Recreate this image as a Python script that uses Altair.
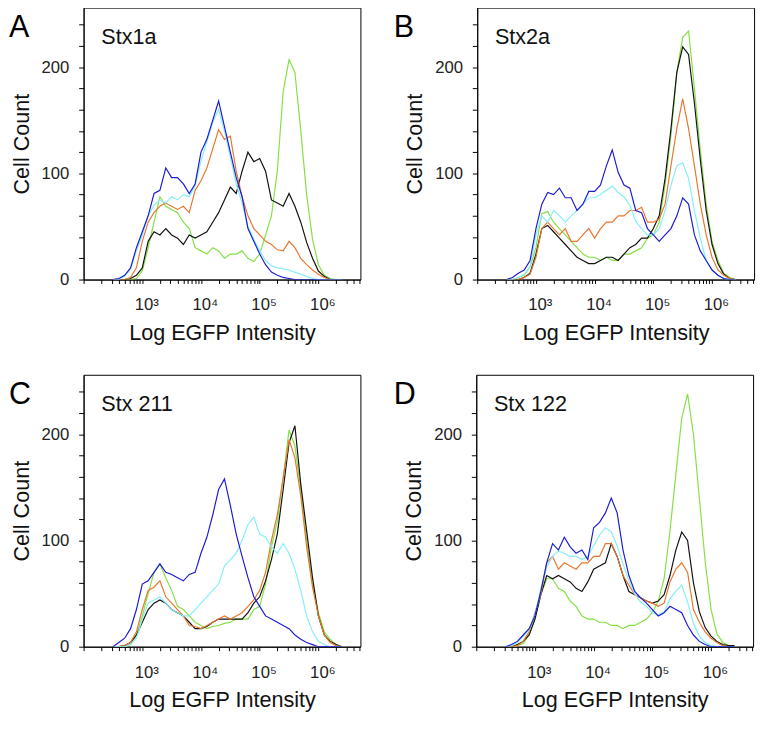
import altair as alt
import pandas as pd

LOG_BINS = [2.5, 2.6, 2.7, 2.8, 2.9, 3.0, 3.1, 3.2, 3.3, 3.4,
            3.5, 3.6, 3.7, 3.8, 3.9, 4.0, 4.1, 4.2, 4.3, 4.4,
            4.5, 4.6, 4.7, 4.8, 4.9, 5.0, 5.1, 5.2, 5.3, 5.4,
            5.5, 5.6, 5.7, 5.8, 5.9, 6.0, 6.1, 6.2, 6.3, 6.4]

SERIES = ["green", "black", "orange", "cyan", "blue"]
COLORS = ["#84e043", "#111111", "#e8772e", "#86eef8", "#1c1cd6"]

A_green = [0, 0, 0, 0, 1, 8, 30, 54, 78, 69, 66, 63, 54, 48, 30, 27, 24, 30, 27, 20,
           24, 24, 27, 20, 17, 24, 42, 60, 102, 177, 207, 195, 140, 80, 38, 14, 4, 1, 0, 0]
A_black = [0, 0, 0, 1, 4, 11, 36, 45, 42, 48, 42, 39, 33, 42, 39, 42, 45, 54, 63, 75,
           87, 81, 102, 120, 111, 114, 102, 75, 72, 69, 81, 69, 54, 35, 20, 8, 3, 0, 0, 0]
A_orange = [0, 0, 0, 2, 11, 36, 54, 63, 69, 72, 69, 66, 69, 63, 84, 93, 105, 123, 141, 132,
            135, 102, 78, 60, 48, 42, 36, 33, 28, 27, 36, 30, 20, 14, 9, 5, 2, 0, 0, 0]
A_cyan = [0, 0, 3, 10, 27, 42, 60, 70, 75, 72, 78, 75, 80, 78, 88, 112, 130, 148, 160, 140,
          115, 90, 72, 50, 38, 27, 18, 13, 11, 10, 9, 7, 5, 3, 1, 0, 0, 0, 0, 0]
A_blue = [0, 1, 4, 11, 30, 45, 60, 81, 84, 105, 96, 96, 90, 81, 90, 120, 132, 150, 168, 144,
          120, 96, 78, 48, 36, 24, 14, 7, 4, 2, 1, 0, 0, 0, 0, 0, 0, 0, 0, 0]

B_green = [0, 0, 2, 4, 12, 30, 62, 64, 54, 48, 42, 36, 30, 24, 21, 21, 18, 21, 18, 18,
           24, 24, 27, 30, 39, 42, 54, 89, 136, 195, 228, 234, 180, 122, 71, 36, 18, 6, 2, 0]
B_black = [0, 0, 0, 2, 6, 24, 48, 51, 45, 39, 33, 27, 21, 18, 15, 15, 18, 21, 21, 18,
           24, 30, 33, 39, 39, 48, 60, 95, 142, 195, 219, 212, 166, 113, 65, 33, 15, 5, 1, 0]
B_orange = [0, 0, 0, 2, 5, 21, 48, 54, 48, 42, 48, 36, 36, 42, 48, 39, 48, 54, 54, 60,
            60, 65, 65, 68, 54, 54, 57, 71, 107, 142, 170, 142, 107, 71, 42, 21, 9, 4, 1, 0]
B_cyan = [0, 0, 2, 5, 12, 42, 60, 54, 65, 60, 54, 60, 65, 71, 77, 77, 80, 84, 88, 82,
          78, 70, 55, 48, 42, 42, 48, 65, 89, 107, 110, 95, 65, 39, 18, 9, 4, 1, 0, 0]
B_blue = [0, 2, 6, 9, 18, 48, 71, 82, 80, 86, 77, 77, 65, 71, 83, 83, 89, 107, 122, 101,
          89, 86, 65, 63, 48, 42, 36, 42, 48, 60, 77, 71, 42, 27, 18, 9, 4, 1, 0, 0]

C_green = [0, 0, 0, 2, 11, 29, 50, 70, 78, 65, 53, 38, 35, 29, 23, 20, 17, 19, 20, 22,
           23, 26, 26, 26, 35, 38, 59, 94, 118, 159, 204, 189, 148, 100, 59, 32, 14, 7, 2, 0]
C_black = [0, 0, 1, 4, 11, 23, 35, 41, 44, 41, 35, 32, 29, 23, 17, 17, 19, 23, 26, 26,
           26, 26, 26, 32, 41, 47, 62, 82, 106, 148, 192, 208, 153, 109, 65, 29, 11, 5, 2, 0]
C_orange = [0, 0, 1, 4, 14, 35, 53, 56, 62, 47, 41, 35, 29, 20, 19, 17, 20, 23, 26, 29,
            26, 29, 32, 38, 44, 53, 70, 100, 124, 159, 195, 178, 142, 94, 56, 29, 11, 4, 1, 0]
C_cyan = [0, 0, 0, 2, 8, 26, 41, 44, 47, 41, 35, 32, 29, 29, 35, 41, 47, 53, 59, 76,
          82, 88, 100, 115, 122, 106, 103, 94, 88, 97, 88, 73, 53, 29, 14, 5, 2, 0, 0, 0]
C_blue = [0, 4, 8, 17, 35, 59, 62, 70, 78, 70, 68, 65, 62, 68, 70, 88, 103, 124, 148, 158,
          133, 106, 85, 65, 47, 38, 29, 26, 23, 20, 17, 11, 7, 4, 2, 0, 0, 0, 0, 0]

D_green = [0, 0, 1, 3, 11, 26, 49, 64, 64, 55, 52, 43, 38, 29, 26, 26, 23, 23, 20, 20,
           17, 20, 20, 23, 26, 32, 43, 64, 109, 162, 215, 238, 200, 140, 80, 35, 12, 4, 1, 0]
D_black = [0, 0, 2, 5, 11, 26, 49, 67, 64, 67, 64, 61, 55, 52, 61, 73, 76, 79, 97, 85,
           67, 52, 49, 46, 43, 41, 43, 49, 67, 91, 108, 100, 60, 33, 18, 10, 5, 2, 1, 1]
D_orange = [0, 0, 1, 5, 14, 32, 49, 79, 85, 73, 79, 76, 73, 79, 79, 85, 85, 97, 97, 85,
            67, 58, 49, 46, 43, 41, 38, 41, 61, 73, 79, 70, 35, 23, 14, 8, 4, 1, 0, 0]
D_cyan = [0, 1, 4, 10, 16, 30, 55, 75, 85, 90, 88, 85, 85, 82, 85, 95, 105, 112, 108, 95,
          78, 62, 50, 42, 38, 32, 30, 33, 45, 52, 58, 42, 22, 10, 4, 1, 0, 0, 0, 0]
D_blue = [0, 2, 5, 11, 17, 29, 52, 79, 97, 91, 103, 94, 88, 91, 82, 112, 117, 126, 140, 126,
          91, 67, 52, 46, 41, 35, 29, 32, 38, 35, 32, 20, 11, 5, 2, 0, 0, 0, 0, 0]

PANELS = [
    ("A", "Stx1a", [A_green, A_black, A_orange, A_cyan, A_blue], -76, 30),
    ("B", "Stx2a", [B_green, B_black, B_orange, B_cyan, B_blue], -85, 30),
    ("C", "Stx 211", [C_green, C_black, C_orange, C_cyan, C_blue], -76, 30),
    ("D", "Stx 122", [D_green, D_black, D_orange, D_cyan, D_blue], -84, 30),
]

X_TICKS = [m * 10 ** d for d in range(2, 7) for m in range(1, 10) if m * 10 ** d <= 5200000]
Y_TICKS = list(range(0, 241, 20))
FONT = "Liberation Sans"

W, H = 282, 277


def panel(letter, label, series_vals, letter_dx, letter_y):
    layers = []
    for name, color, vals in zip(SERIES, COLORS, series_vals):
        df = pd.DataFrame({"lb": LOG_BINS, "count": vals})
        df["x"] = 10 ** df["lb"]
        layers.append(
            alt.Chart(df).mark_line(color=color, strokeWidth=1.2, clip=True).encode(
                x=alt.X("x:Q",
                        scale=alt.Scale(type="log", domain=[100, 5200000], nice=False),
                        axis=alt.Axis(values=X_TICKS,
                                      labelExpr="datum.value == 1000 ? '10³' : datum.value == 10000 ? '10⁴' : datum.value == 100000 ? '10⁵' : datum.value == 1000000 ? '10⁶' : ''",
                                      tickSize=4, labelFontSize=17, labelPadding=14,
                                      labelOffset=4, labelOverlap=False, labelFlush=False,
                                      title="Log EGFP Intensity", titleFontSize=22,
                                      titlePadding=10, grid=False)),
                y=alt.Y("count:Q",
                        scale=alt.Scale(domain=[0, 256], nice=False, zero=True),
                        axis=alt.Axis(values=Y_TICKS,
                                      labelExpr="datum.value % 100 == 0 ? datum.label : ''",
                                      tickSize=5, labelFontSize=17, labelPadding=10,
                                      labelOverlap=False,
                                      title="Cell Count", titleFontSize=22,
                                      titlePadding=8, grid=False)),
            )
        )
    tdf = pd.DataFrame({"t": [label]})
    layers.append(
        alt.Chart(tdf).mark_text(font=FONT, fontSize=22, align="left", baseline="alphabetic",
                                 color="#111").encode(
            text="t:N", x=alt.value(18), y=alt.value(37))
    )
    ldf = pd.DataFrame({"t": [letter]})
    layers.append(
        alt.Chart(ldf).mark_text(font=FONT, fontSize=31, align="left", baseline="alphabetic",
                                 color="#000").encode(
            text="t:N", x=alt.value(letter_dx), y=alt.value(letter_y))
    )
    return alt.layer(*layers).properties(width=W, height=H)


pA, pB, pC, pD = [panel(*p) for p in PANELS]

chart = alt.vconcat(
    alt.hconcat(pA, pB, spacing=29),
    alt.hconcat(pC, pD, spacing=29),
    spacing=30,
).properties(
    padding={"left": 0, "top": -8, "right": 0, "bottom": 0}
).configure_view(
    stroke="black", strokeWidth=1
).configure_axis(
    domainColor="black", tickColor="black", labelColor="#222", titleColor="#111",
    labelFont=FONT, titleFont=FONT, titleFontWeight="normal", domainWidth=1, tickWidth=1
)

chart.save("out.html", embed_options={"renderer": "svg", "actions": False})
